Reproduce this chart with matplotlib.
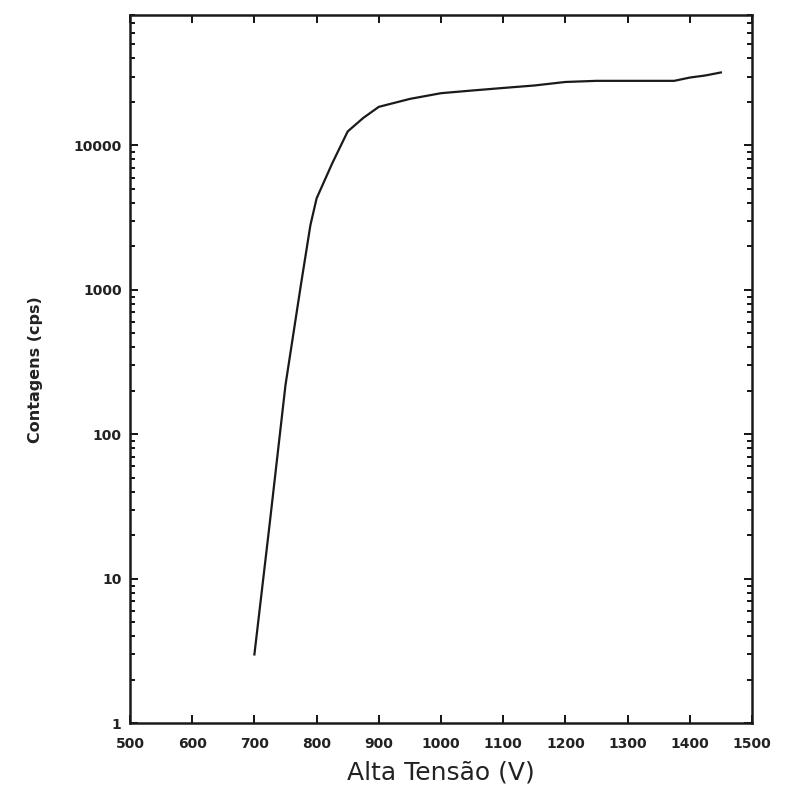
import numpy as np
import matplotlib.pyplot as plt
from matplotlib.ticker import FixedLocator, NullFormatter

# High voltage plateau curve (counts vs. voltage)
voltage = [700, 725, 750, 775, 790, 800, 825, 850, 875, 900, 950, 1000,
           1050, 1100, 1150, 1200, 1250, 1300, 1350, 1375, 1400, 1425, 1450]
counts = [3, 25, 220, 1100, 2800, 4300, 7500, 12500, 15500, 18500, 21000, 23000,
          24000, 25000, 26000, 27500, 28000, 28000, 28000, 28000, 29500, 30500, 32000]

x_ticks = [500, 600, 700, 800, 900, 1000, 1100, 1200, 1300, 1400, 1500]
y_ticks = [1, 10, 100, 1000, 10000]

fig = plt.figure(figsize=(7.86, 7.88), dpi=100)
ax = fig.add_axes([0.1654, 0.082, 0.7913, 0.899])

ax.plot(voltage, counts, color="#1a1a1a", linewidth=1.6)

ax.set_yscale("log")
ax.set_xlim(500, 1500)
ax.set_ylim(1, 80000)

ax.set_xticks(x_ticks)
ax.set_xticklabels([str(t) for t in x_ticks])
ax.yaxis.set_major_locator(FixedLocator(y_ticks))
ax.set_yticklabels([str(t) for t in y_ticks])
minor = [m * 10 ** e for e in range(0, 5) for m in range(2, 10)]
ax.yaxis.set_minor_locator(FixedLocator(minor))
ax.yaxis.set_minor_formatter(NullFormatter())

ax.tick_params(which="both", direction="in", top=True, right=True, width=1.3)
ax.tick_params(which="major", length=6, labelsize=10)
ax.tick_params(axis="x", which="major", pad=10)
ax.tick_params(axis="y", which="major", pad=6)
ax.tick_params(which="minor", length=3.5)
for lbl in ax.get_xticklabels() + ax.get_yticklabels():
    lbl.set_fontweight("bold")
    lbl.set_color("#222222")

for s in ax.spines.values():
    s.set_linewidth(1.8)
    s.set_color("#1a1a1a")

ax.set_xlabel("Alta Tensão (V)", fontsize=18, color="#222222", labelpad=7)
ax.set_ylabel("Contagens (cps)", fontsize=11.5, fontweight="bold", color="#222222", labelpad=22)

fig.savefig("out.png", dpi=100)
